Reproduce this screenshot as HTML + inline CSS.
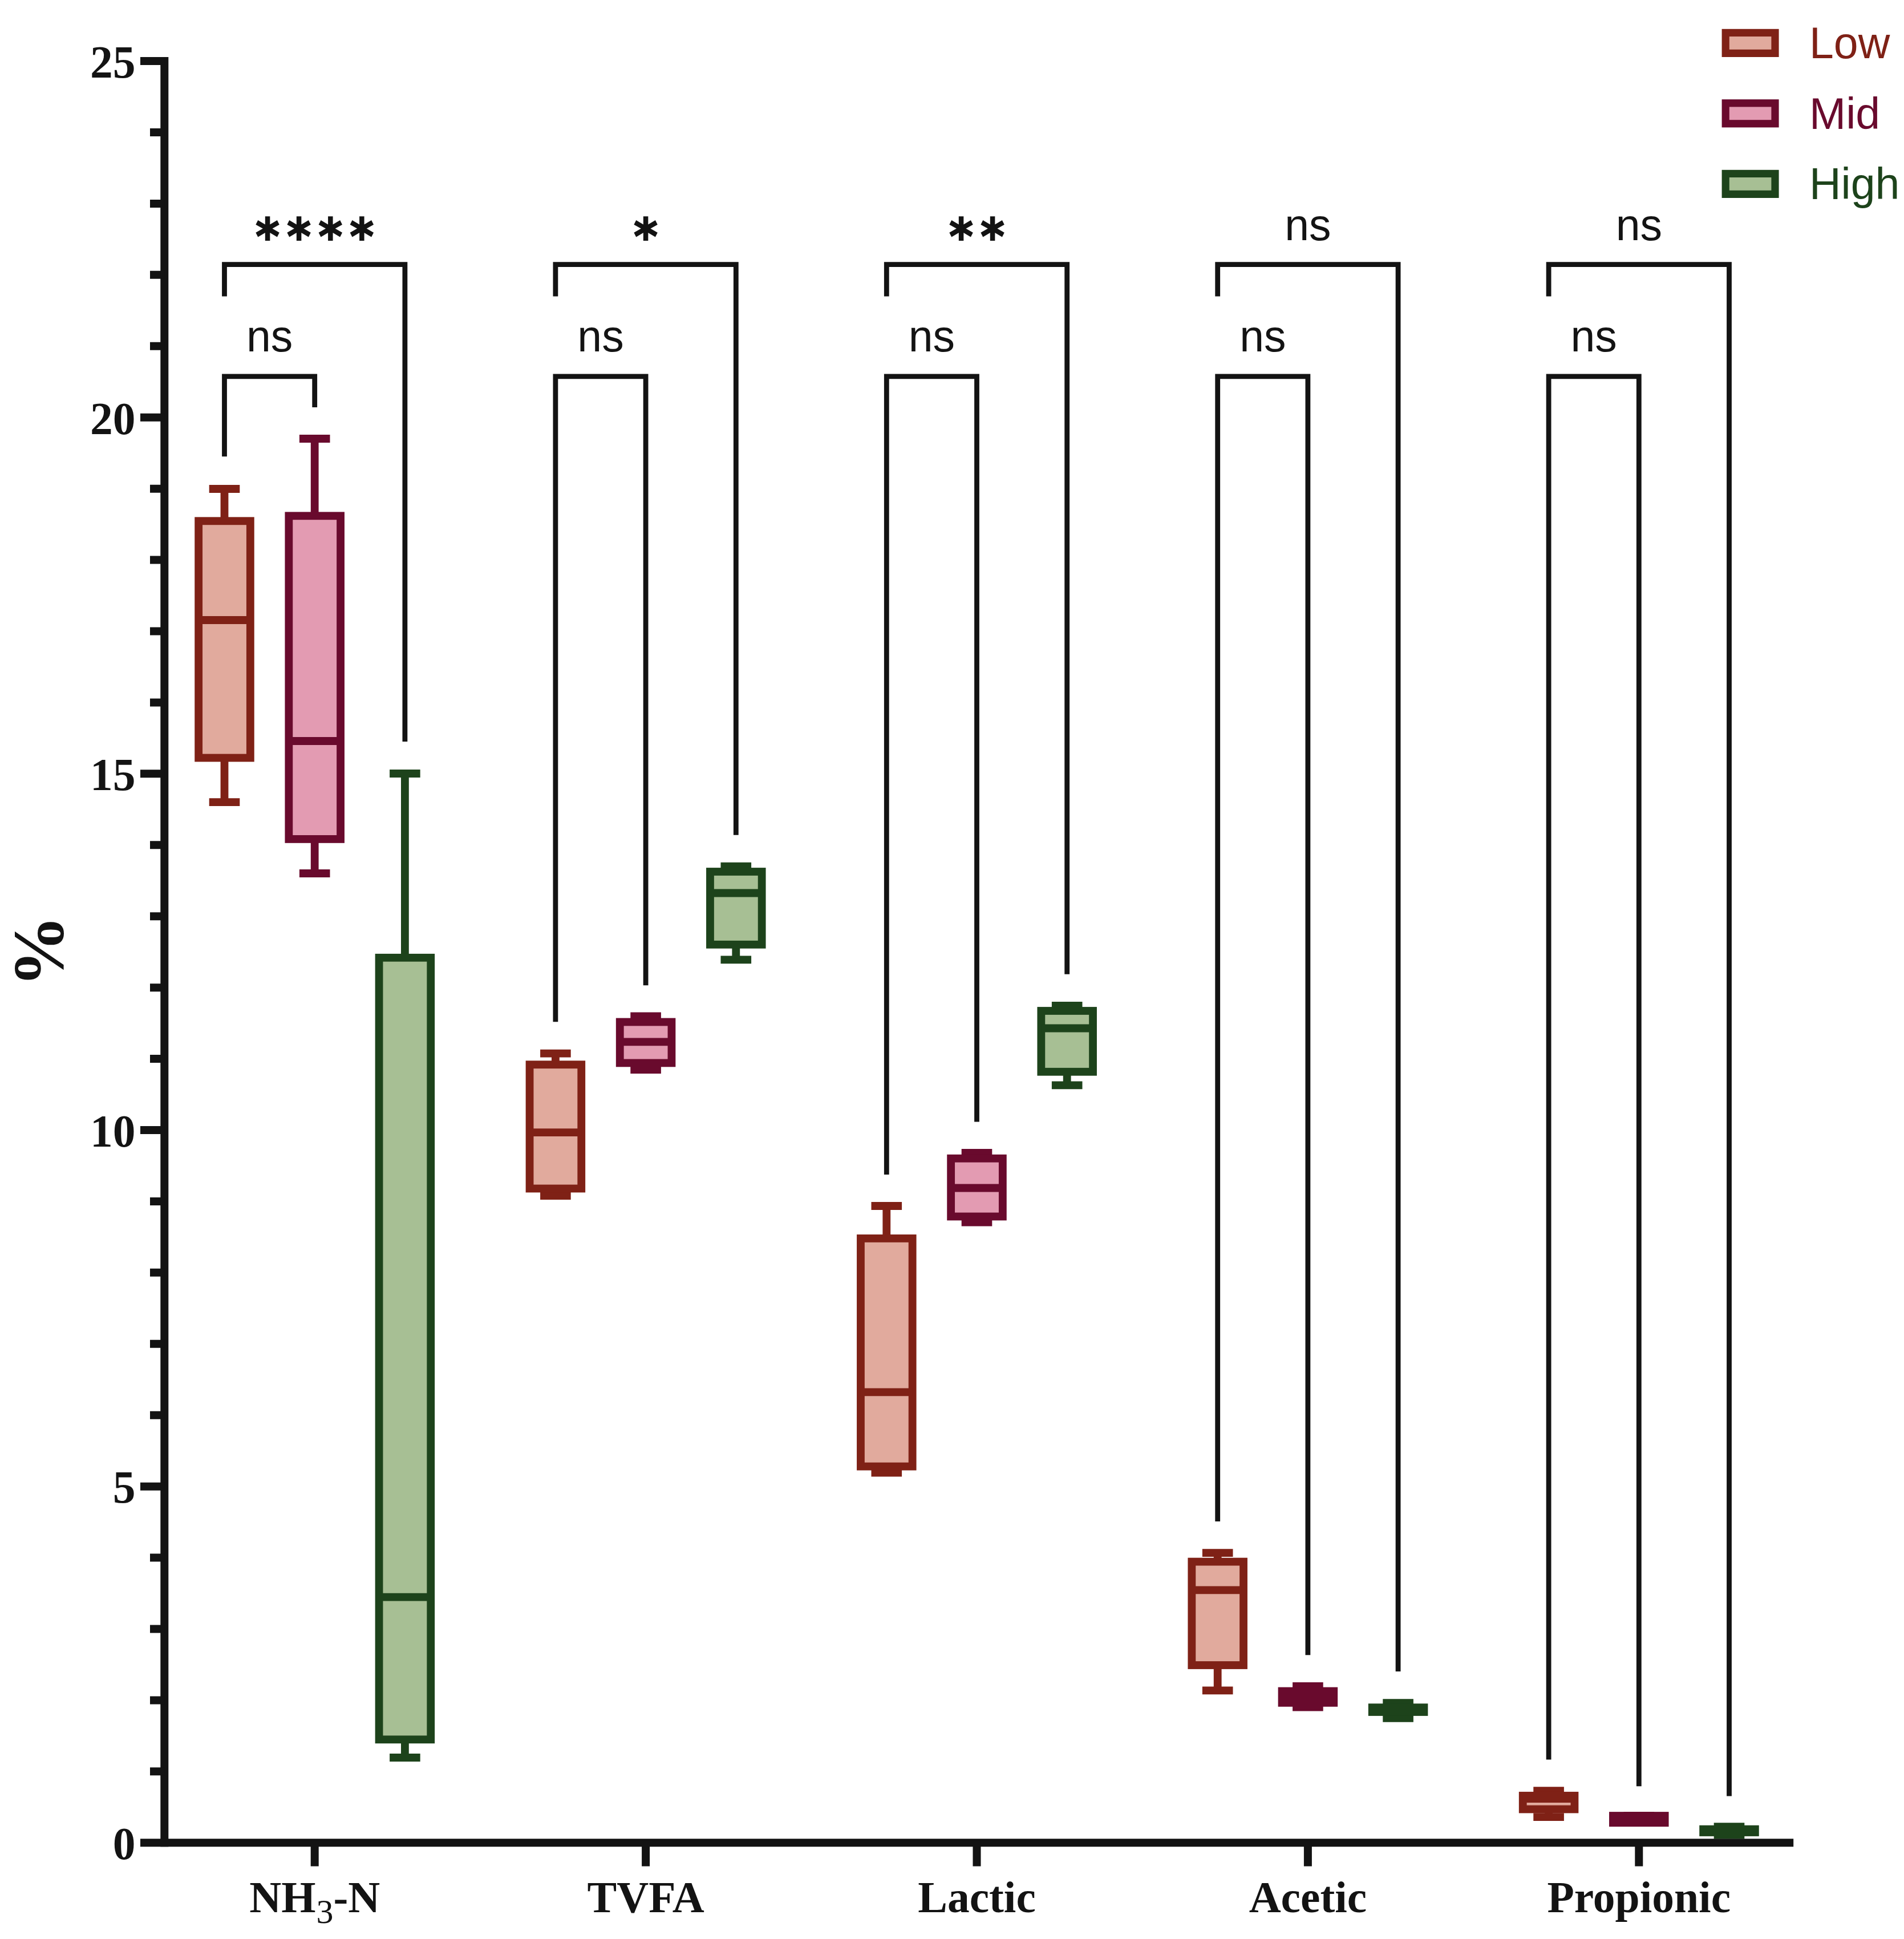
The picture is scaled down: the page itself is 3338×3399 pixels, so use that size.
<!DOCTYPE html>
<html lang="en"><head><meta charset="utf-8"><title>Fermentation box plot</title>
<style>html,body{margin:0;padding:0;background:#fff}svg{display:block}.ser{font-family:"Liberation Serif",serif;font-weight:bold}.san{font-family:"Liberation Sans",sans-serif}.ast{font-family:"DejaVu Sans","Liberation Sans",sans-serif;font-weight:bold}</style></head><body>
<svg width="3338" height="3399" viewBox="0 0 3338 3399">
<rect width="3338" height="3399" fill="#fff"/>
<g stroke-linecap="butt" stroke-linejoin="miter">
<g stroke="#7f2116" stroke-width="13.8" fill="none">
<path d="M393.5 857V1406.2M366.7 857H420.3M366.7 1406.2H420.3"/>
<rect x="348.15" y="913.3" width="90.7" height="415.2" fill="#e1aa9d"/>
<path d="M348.15 1087H438.85"/>
</g>
<g stroke="#690a2d" stroke-width="13.8" fill="none">
<path d="M551.7 769V1531M524.9 769H578.5M524.9 1531H578.5"/>
<rect x="506.35" y="904.3" width="90.7" height="566.6" fill="#e39bb2"/>
<path d="M506.35 1299H597.05"/>
</g>
<g stroke="#1d431b" stroke-width="13.8" fill="none">
<path d="M709.9 1356V3081M683.1 1356H736.7M683.1 3081H736.7"/>
<rect x="664.55" y="1678.8" width="90.7" height="1370.5" fill="#a7bf94"/>
<path d="M664.55 2799.6H755.25"/>
</g>
<g stroke="#7f2116" stroke-width="13.8" fill="none">
<path d="M973.9 1846.7V2096.2M947.1 1846.7H1000.7M947.1 2096.2H1000.7"/>
<rect x="928.55" y="1866.2" width="90.7" height="217.3" fill="#e1aa9d"/>
<path d="M928.55 1985.2H1019.25"/>
</g>
<g stroke="#690a2d" stroke-width="13.8" fill="none">
<path d="M1132.1 1781.4V1875M1105.3 1781.4H1158.9M1105.3 1875H1158.9"/>
<rect x="1086.75" y="1791.5" width="90.7" height="71.9" fill="#e39bb2"/>
<path d="M1086.75 1826.4H1177.45"/>
</g>
<g stroke="#1d431b" stroke-width="13.8" fill="none">
<path d="M1290.3 1518.6V1682.3M1263.5 1518.6H1317.1M1263.5 1682.3H1317.1"/>
<rect x="1244.95" y="1528" width="90.7" height="127.8" fill="#a7bf94"/>
<path d="M1244.95 1565.5H1335.65"/>
</g>
<g stroke="#7f2116" stroke-width="13.8" fill="none">
<path d="M1554.3 2114V2581.5M1527.5 2114H1581.1M1527.5 2581.5H1581.1"/>
<rect x="1508.95" y="2170.9" width="90.7" height="399.7" fill="#e1aa9d"/>
<path d="M1508.95 2440.4H1599.65"/>
</g>
<g stroke="#690a2d" stroke-width="13.8" fill="none">
<path d="M1712.5 2021V2142.6M1685.7 2021H1739.3M1685.7 2142.6H1739.3"/>
<rect x="1667.15" y="2030.7" width="90.7" height="101.8" fill="#e39bb2"/>
<path d="M1667.15 2082.5H1757.85"/>
</g>
<g stroke="#1d431b" stroke-width="13.8" fill="none">
<path d="M1870.7 1763V1902.3M1843.9 1763H1897.5M1843.9 1902.3H1897.5"/>
<rect x="1825.35" y="1772" width="90.7" height="106.8" fill="#a7bf94"/>
<path d="M1825.35 1802.5H1916.05"/>
</g>
<g stroke="#7f2116" stroke-width="13.8" fill="none">
<path d="M2134.7 2722.1V2963.4M2107.9 2722.1H2161.5M2107.9 2963.4H2161.5"/>
<rect x="2089.35" y="2737.6" width="90.7" height="181.4" fill="#e1aa9d"/>
<path d="M2089.35 2787.3H2180.05"/>
</g>
<g stroke="#690a2d" stroke-width="13.8" fill="none">
<path d="M2292.9 2955.8V2992.6M2266.1 2955.8H2319.7M2266.1 2992.6H2319.7"/>
<rect x="2247.55" y="2964.5" width="90.7" height="20.4" fill="#e39bb2"/>
<path d="M2247.55 2975H2338.25"/>
</g>
<g stroke="#1d431b" stroke-width="13.8" fill="none">
<path d="M2451.1 2985.2V3011.8M2424.3 2985.2H2477.9M2424.3 3011.8H2477.9"/>
<rect x="2405.75" y="2993.2" width="90.7" height="7.8" fill="#a7bf94"/>
<path d="M2405.75 2997H2496.45"/>
</g>
<g stroke="#7f2116" stroke-width="13.8" fill="none">
<path d="M2715.1 3139.1V3185.2M2688.3 3139.1H2741.9M2688.3 3185.2H2741.9"/>
<rect x="2669.75" y="3147.8" width="90.7" height="23.7" fill="#e1aa9d"/>
<path d="M2669.75 3153.2H2760.45"/>
</g>
<g stroke="#690a2d" stroke-width="13.8" fill="none">
<path d="M2873.3 3183V3195.2M2846.5 3183H2900.1M2846.5 3195.2H2900.1"/>
<rect x="2827.95" y="3183" width="90.7" height="12.2" fill="#e39bb2"/>
<path d="M2827.95 3189H2918.65"/>
</g>
<g stroke="#1d431b" stroke-width="13.8" fill="none">
<path d="M3031.5 3202.1V3216.7M3004.7 3202.1H3058.3M3004.7 3216.7H3058.3"/>
<rect x="2986.15" y="3206.6" width="90.7" height="5.4" fill="#a7bf94"/>
<path d="M2986.15 3209H3076.85"/>
</g>
</g>
<g stroke="#131313" stroke-width="8.8" fill="none" stroke-linejoin="miter">
<path d="M393.5 519.5V463.7H709.9V1300"/>
<path d="M393.5 800.2V659.8H551.7V714"/>
<path d="M973.9 519.5V463.7H1290.3V1463.7"/>
<path d="M973.9 1791.2V659.8H1132.1V1727.3"/>
<path d="M1554.3 519.5V463.7H1870.7V1707.7"/>
<path d="M1554.3 2058.9V659.8H1712.5V1966.5"/>
<path d="M2134.7 519.5V463.7H2451.1V2930.1"/>
<path d="M2134.7 2667V659.8H2292.9V2901.3"/>
<path d="M2715.1 519.5V463.7H3031.5V3148.4"/>
<path d="M2715.1 3084.6V659.8H2873.3V3131.3"/>
</g>
<g fill="#131313" text-anchor="middle">
<text class="san" font-size="77" x="472.6" y="616">ns</text>
<text class="ast" font-size="88" letter-spacing="14.1" stroke="#131313" stroke-width="2" transform="translate(558.16 444.9) scale(0.916 1)">****</text>
<text class="san" font-size="77" x="1053" y="616">ns</text>
<text class="ast" font-size="88" letter-spacing="14.1" stroke="#131313" stroke-width="2" transform="translate(1138.56 444.9) scale(0.916 1)">*</text>
<text class="san" font-size="77" x="1633.4" y="616">ns</text>
<text class="ast" font-size="88" letter-spacing="14.1" stroke="#131313" stroke-width="2" transform="translate(1718.96 444.9) scale(0.916 1)">**</text>
<text class="san" font-size="77" x="2213.8" y="616">ns</text>
<text class="san" font-size="77" x="2292.9" y="420.5">ns</text>
<text class="san" font-size="77" x="2794.2" y="616">ns</text>
<text class="san" font-size="77" x="2873.3" y="420.5">ns</text>
</g>
<g stroke="#131313" stroke-width="14" fill="none">
<path d="M288.3 100.05V3237.3"/>
<path d="M246 3230.3H3144.2"/>
<path d="M263 3105.37H288.3M263 2980.44H288.3M263 2855.51H288.3M263 2730.58H288.3M246 2605.65H288.3M263 2480.72H288.3M263 2355.79H288.3M263 2230.86H288.3M263 2105.93H288.3M246 1981H288.3M263 1856.07H288.3M263 1731.14H288.3M263 1606.21H288.3M263 1481.28H288.3M246 1356.35H288.3M263 1231.42H288.3M263 1106.49H288.3M263 981.56H288.3M263 856.63H288.3M246 731.7H288.3M263 606.77H288.3M263 481.84H288.3M263 356.91H288.3M263 231.98H288.3M246 107.05H288.3"/>
<path d="M551.7 3230.3V3271.5M1132.1 3230.3V3271.5M1712.5 3230.3V3271.5M2292.9 3230.3V3271.5M2873.3 3230.3V3271.5"/>
</g>
<g class="ser" fill="#131313" font-size="79.5" text-anchor="end">
<text x="237.5" y="3259.1">0</text>
<text x="237.5" y="2634.45">5</text>
<text x="237.5" y="2009.8">10</text>
<text x="237.5" y="1385.15">15</text>
<text x="237.5" y="760.5">20</text>
<text x="237.5" y="135.85">25</text>
</g>
<text class="ser" fill="#131313" font-size="126" text-anchor="middle" transform="translate(109.5 1667.6) rotate(-90)">%</text>
<g class="ser" fill="#131313" font-size="77.5" text-anchor="middle">
<text x="551.7" y="3352.2">NH<tspan font-size="60" font-weight="normal" dy="19" dx="1">3</tspan><tspan dy="-19">-N</tspan></text>
<text x="1132.1" y="3352.2">TVFA</text>
<text x="1712.5" y="3352.2">Lactic</text>
<text x="2292.9" y="3352.2">Acetic</text>
<text x="2873.3" y="3352.2">Propionic</text>
</g>
<rect x="3025.2" y="57.4" width="86.8" height="36" fill="#e1aa9d" stroke="#7f2116" stroke-width="13.2"/>
<text class="san" font-size="77" fill="#7f2116" x="3172" y="101.7">Low</text>
<rect x="3025.2" y="180.8" width="86.8" height="36" fill="#e39bb2" stroke="#690a2d" stroke-width="13.2"/>
<text class="san" font-size="77" fill="#690a2d" x="3172" y="225.5">Mid</text>
<rect x="3025.2" y="304.4" width="86.8" height="36" fill="#a7bf94" stroke="#1d431b" stroke-width="13.2"/>
<text class="san" font-size="77" fill="#1d431b" x="3172" y="349.2">High</text>
</svg></body></html>
